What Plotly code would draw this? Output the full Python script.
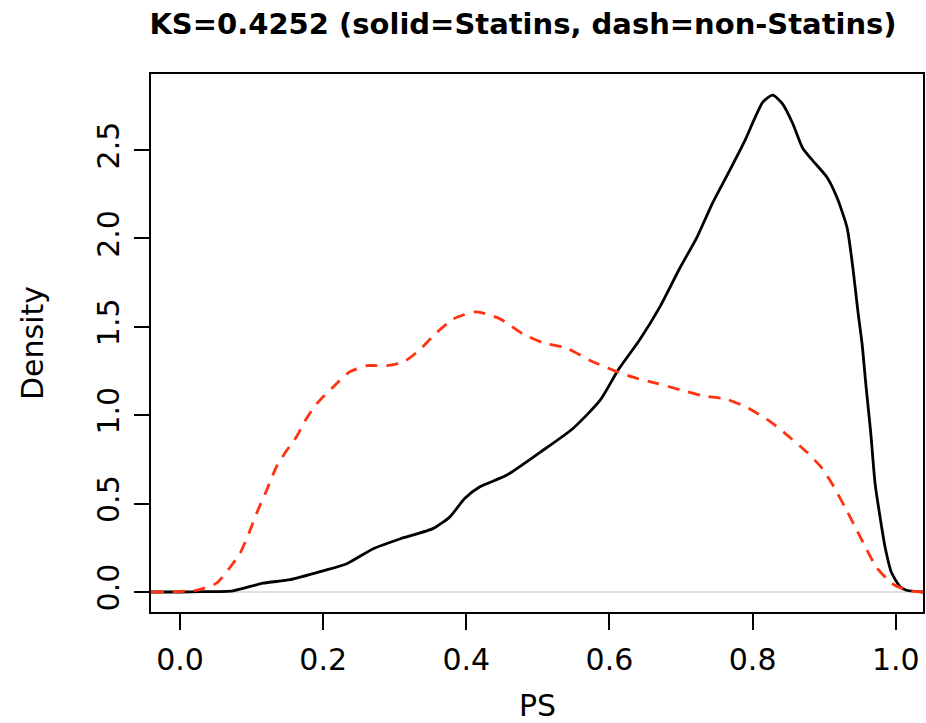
import plotly.graph_objects as go

# Statins (solid black)
statins_x = [-0.04, 0.0, 0.03, 0.074, 0.116, 0.154, 0.20, 0.233, 0.27, 0.307, 0.354, 0.377, 0.398, 0.419,
             0.456, 0.503, 0.549, 0.587, 0.612, 0.642, 0.670, 0.698, 0.722, 0.744, 0.768, 0.790, 0.803,
             0.814, 0.828, 0.842, 0.856, 0.870, 0.884, 0.904, 0.918, 0.932, 0.940, 0.947, 0.953, 0.958,
             0.965, 0.971, 0.978, 0.985, 0.994, 1.006, 1.015, 1.038]
statins_y = [0, 0, 0.002, 0.007, 0.05, 0.07, 0.12, 0.16, 0.245, 0.30, 0.36, 0.425, 0.53, 0.595,
             0.66, 0.79, 0.925, 1.085, 1.255, 1.425, 1.61, 1.83, 2.005, 2.2, 2.385, 2.56, 2.68,
             2.77, 2.81, 2.76, 2.65, 2.51, 2.44, 2.345, 2.23, 2.06, 1.835, 1.59, 1.40, 1.18,
             0.90, 0.615, 0.425, 0.255, 0.11, 0.03, 0.01, 0.0]

# non-Statins (dashed red)
non_x = [-0.04, 0.023, 0.051, 0.070, 0.084, 0.098, 0.107, 0.121, 0.135, 0.149, 0.163, 0.175, 0.191,
         0.214, 0.237, 0.261, 0.289, 0.312, 0.335, 0.354, 0.382, 0.414, 0.447, 0.479, 0.507, 0.540,
         0.573, 0.605, 0.633, 0.666, 0.698, 0.730, 0.764, 0.794, 0.826, 0.849, 0.876, 0.897, 0.912,
         0.929, 0.943, 0.958, 0.973, 0.994, 1.015, 1.038]
non_y = [0, 0.01, 0.05, 0.14, 0.22, 0.35, 0.445, 0.575, 0.71, 0.80, 0.88, 0.97, 1.065,
         1.16, 1.245, 1.28, 1.28, 1.30, 1.37, 1.45, 1.545, 1.585, 1.545, 1.46, 1.41, 1.38,
         1.31, 1.255, 1.215, 1.18, 1.145, 1.11, 1.09, 1.04, 0.96, 0.885, 0.79, 0.70, 0.605,
         0.48, 0.37, 0.25, 0.14, 0.05, 0.01, 0]

x_ticks = [0.0, 0.2, 0.4, 0.6, 0.8, 1.0]
x_ticklabels = ["0.0", "0.2", "0.4", "0.6", "0.8", "1.0"]
y_ticks = [0.0, 0.5, 1.0, 1.5, 2.0, 2.5]
y_ticklabels = ["0.0", "0.5", "1.0", "1.5", "2.0", "2.5"]

title_text = "KS=0.4252 (solid=Statins, dash=non-Statins)"
FONT = "DejaVu Sans"

# plot area in pixels
L, R, T, B = 151, 923, 74, 612
W, H = R - L, B - T

fig = go.Figure()
fig.add_trace(go.Scatter(x=statins_x, y=statins_y, mode="lines",
                         line=dict(color="black", width=2.8, shape="spline", smoothing=0.6),
                         showlegend=False, hoverinfo="skip"))
fig.add_trace(go.Scatter(x=non_x, y=non_y, mode="lines",
                         line=dict(color="#ff3311", width=2.8, dash="12px,9px", shape="spline", smoothing=0.6),
                         showlegend=False, hoverinfo="skip"))

fig.add_hline(y=0, line=dict(color="#bebebe", width=1.2), layer="below")

fig.update_layout(
    width=926, height=723,
    margin=dict(l=L, r=926 - R, t=T, b=723 - B, autoexpand=False),
    paper_bgcolor="white", plot_bgcolor="white",
    font=dict(family=FONT, color="black"),
    title=dict(text="<b>" + title_text + "</b>", x=523 / 926, xanchor="center",
               y=1 - 24 / 723, yanchor="middle", yref="container",
               font=dict(family=FONT, size=29, color="black")),
    xaxis=dict(range=[-0.0405, 1.038], tickvals=x_ticks, ticktext=x_ticklabels,
               showgrid=False, zeroline=False, showline=True, mirror=True,
               linecolor="black", linewidth=1.5, ticks="outside", ticklen=16,
               tickwidth=1.5, tickcolor="black", ticklabelstandoff=4,
               tickfont=dict(family=FONT, size=30, color="black"), automargin=False),
    yaxis=dict(range=[-0.113, 2.93], tickvals=y_ticks, ticktext=y_ticklabels,
               showgrid=False, zeroline=False, showline=True, mirror=True,
               linecolor="black", linewidth=1.5, ticks="outside", ticklen=15,
               tickwidth=1.5, tickcolor="black", tickangle=-90, ticklabelstandoff=3,
               tickfont=dict(family=FONT, size=30, color="black"), automargin=False),
    annotations=[
        dict(text="PS", x=(537 - L) / W, y=(B - 705) / H, xref="paper", yref="paper",
             showarrow=False, xanchor="center", yanchor="middle",
             font=dict(family=FONT, size=30, color="black")),
        dict(text="Density", x=(32 - L) / W, y=(B - 343) / H, xref="paper", yref="paper",
             showarrow=False, xanchor="center", yanchor="middle", textangle=-90,
             font=dict(family=FONT, size=30, color="black")),
    ],
)

fig.write_html("out.html")
